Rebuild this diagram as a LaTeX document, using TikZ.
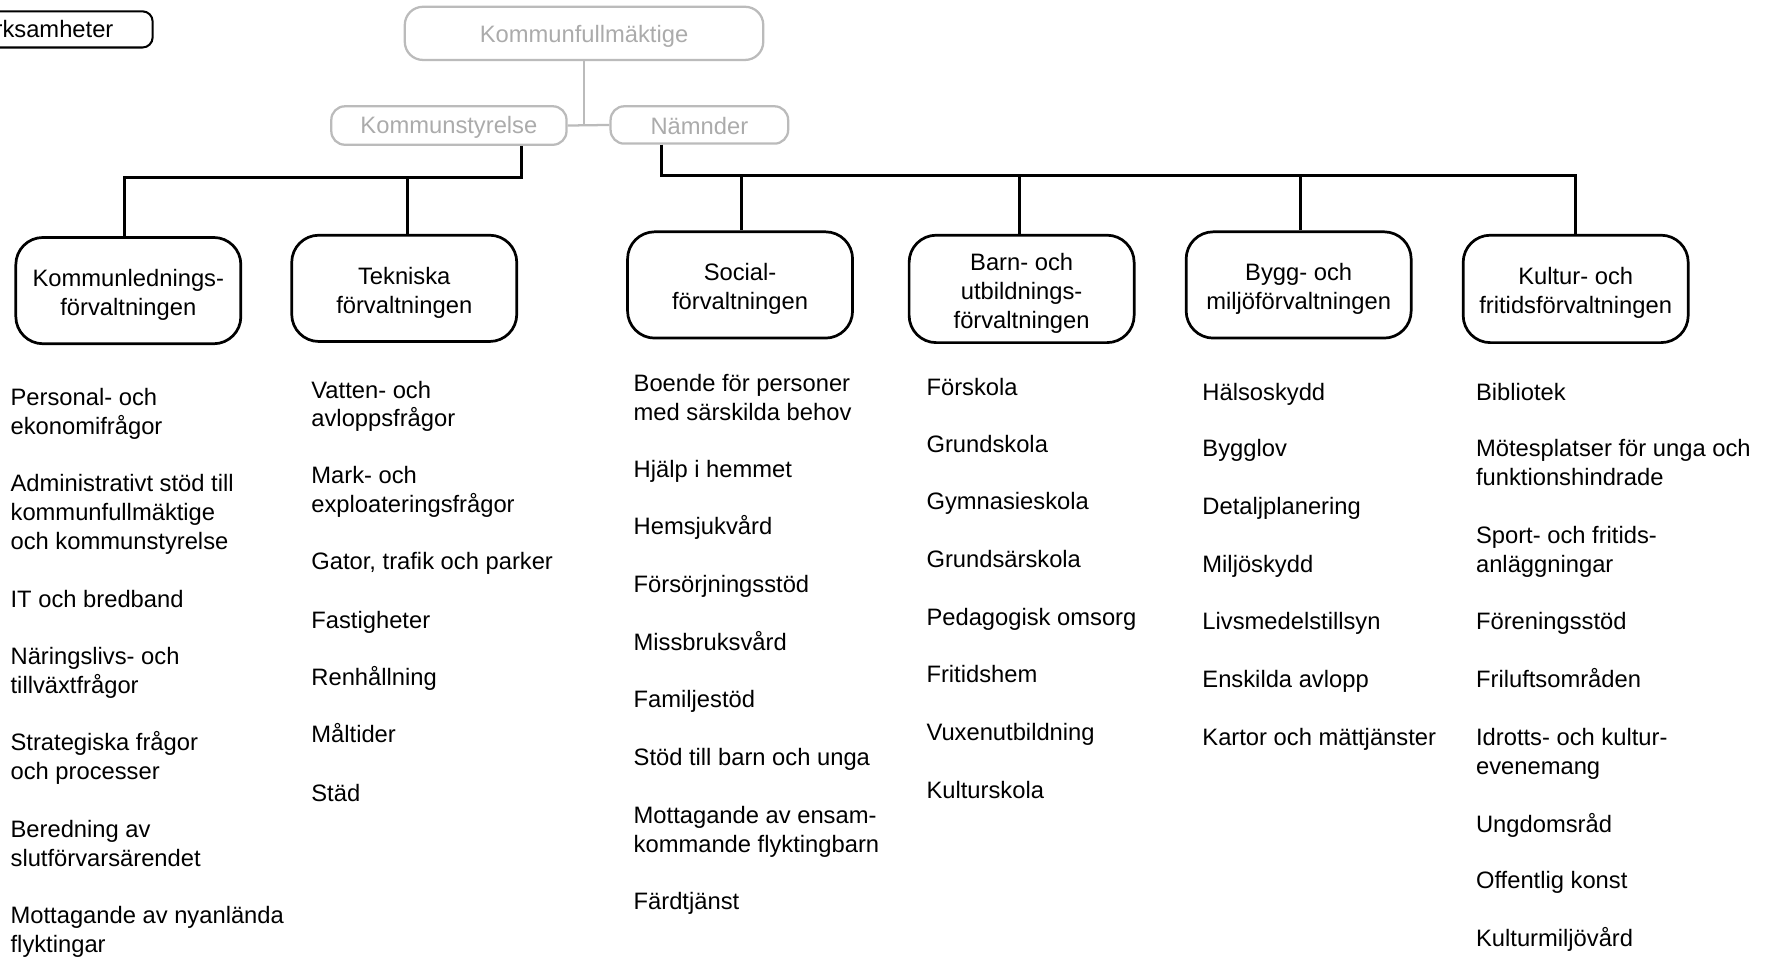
\documentclass[tikz,border=0pt]{standalone}
\usepackage{fontspec}
\setmainfont{Liberation Sans}
\definecolor{lg}{HTML}{BBBBBB}
\definecolor{lgt}{HTML}{ABABAB}
\newcommand{\dn}[2]{\raisebox{-#1}[\height][\depth]{#2}}
\begin{document}
\begin{tikzpicture}[x=0.5pt,y=-0.5pt,
  every node/.style={font=\fontsize{10.5pt}{12.75pt}\selectfont},
  unitbox/.style={draw, line width=1.2pt, rounded corners=12pt, minimum width=99.5pt, minimum height=47pt, align=center, inner sep=0pt},
  gbox/.style={draw=lg, line width=1pt, text=lgt, align=center, inner sep=0pt},
  item/.style={anchor=base west, align=left, inner sep=0pt},
  conn/.style={line width=1.3pt},
  gconn/.style={draw=lg, line width=1pt}]
\useasboundingbox (0,0) rectangle (1568,848);

% legend box (clipped on the left)
\node[draw, line width=0.9pt, rounded corners=4.5pt, minimum width=99.5pt, minimum height=16pt, inner sep=0pt] (leg) at (35.5,26) {Verksamheter};

% grey top level
\node[gbox, rounded corners=8pt, minimum width=158.5pt, minimum height=23.5pt] (kf) at (516.5,29.5) {\dn{1.5pt}{Kommunfullmäktige}};
\node[gbox, rounded corners=6pt, minimum width=104pt, minimum height=17pt] (kst) at (397,111) {\dn{1pt}{Kommunstyrelse}};
\node[gbox, rounded corners=6pt, minimum width=78.5pt, minimum height=16.5pt] (nam) at (618.5,110.5) {\dn{0.5pt}{Nämnder}};
\coordinate (g) at (516.5,111);
\draw[gconn] (kf.south) -- (g);
\draw[gconn] (kst.east) -- (nam.west);

% units
\node[unitbox] (b1) at (113.5,257) {\dn{2pt}{\begin{tabular}{@{}c@{}}Kommunlednings-\\förvaltningen\end{tabular}}};
\node[unitbox] (b2) at (357.5,255) {\dn{2pt}{\begin{tabular}{@{}c@{}}Tekniska\\förvaltningen\end{tabular}}};
\node[unitbox] (b3) at (654.5,252) {\dn{1.8pt}{\begin{tabular}{@{}c@{}}Social-\\förvaltningen\end{tabular}}};
\node[unitbox, minimum height=47.5pt] (b4) at (903.5,255.5) {\dn{2pt}{\begin{tabular}{@{}c@{}}Barn- och\\utbildnings-\\förvaltningen\end{tabular}}};
\node[unitbox] (b5) at (1148.5,252) {\dn{1.8pt}{\begin{tabular}{@{}c@{}}Bygg- och\\miljöförvaltningen\end{tabular}}};
\node[unitbox, minimum height=47.5pt] (b6) at (1393.5,255.5) {\dn{1.8pt}{\begin{tabular}{@{}c@{}}Kultur- och\\fritidsförvaltningen\end{tabular}}};

% connectors from Kommunstyrelse
\coordinate (kA) at (461,157);
\coordinate (kL) at (110,157);
\coordinate (kT) at (360,157);
\draw[conn] (kA |- kst.south) -- (kA) -- (kL) -- (kL |- b1.north);
\draw[conn] (kT) -- (kT |- b2.north);

% connectors from Nämnder
\coordinate (nA) at (585,155);
\coordinate (nS) at (656,155);
\coordinate (nB) at (902,155);
\coordinate (nM) at (1150,155);
\coordinate (nK) at (1393,155);
\draw[conn] (nA |- nam.south) -- (nA) -- (nK) -- (nK |- b6.north);
\draw[conn] (nS) -- (nS |- b3.north);
\draw[conn] (nB) -- (nB |- b4.north);
\draw[conn] (nM) -- (nM |- b5.north);

% column 1 (y = baseline of last line)
\node[item] (c1a) at (9,384.5) {Personal- och\\ekonomifrågor};
\node[item] (c1b) at (9,486) {Administrativt stöd till\\kommunfullmäktige\\och kommunstyrelse};
\node[item] (c1c) at (9,537) {IT och bredband};
\node[item] (c1d) at (9,613.5) {Näringslivs- och\\tillväxtfrågor};
\node[item] (c1e) at (9,689.5) {Strategiska frågor\\och processer};
\node[item] (c1f) at (9,766.5) {Beredning av\\slutförvarsärendet};
\node[item] (c1g) at (9,842.5) {Mottagande av nyanlända\\flyktingar};

% column 2
\node[item] (c2a) at (275,377.5) {Vatten- och\\avloppsfrågor};
\node[item] (c2b) at (275,453.5) {Mark- och\\exploateringsfrågor};
\node[item] (c2c) at (275,504) {Gator, trafik och parker};
\node[item] (c2d) at (275,556) {Fastigheter};
\node[item] (c2e) at (275,606) {Renhållning};
\node[item] (c2f) at (275,657) {Måltider};
\node[item] (c2g) at (275,709) {Städ};

% column 3
\node[item] (c3a) at (560,371.5) {Boende för personer\\med särskilda behov};
\node[item] (c3b) at (560,422) {Hjälp i hemmet};
\node[item] (c3c) at (560,473) {Hemsjukvård};
\node[item] (c3d) at (560,524) {Försörjningsstöd};
\node[item] (c3e) at (560,575) {Missbruksvård};
\node[item] (c3f) at (560,626) {Familjestöd};
\node[item] (c3g) at (560,677) {Stöd till barn och unga};
\node[item] (c3h) at (560,753.5) {Mottagande av ensam-\\kommande flyktingbarn};
\node[item] (c3i) at (560,804) {Färdtjänst};

% column 4
\node[item] (c4a) at (819,350) {Förskola};
\node[item] (c4b) at (819,400) {Grundskola};
\node[item] (c4c) at (819,451) {Gymnasieskola};
\node[item] (c4d) at (819,502) {Grundsärskola};
\node[item] (c4e) at (819,553) {Pedagogisk omsorg};
\node[item] (c4f) at (819,604) {Fritidshem};
\node[item] (c4g) at (819,655) {Vuxenutbildning};
\node[item] (c4h) at (819,706) {Kulturskola};

% column 5
\node[item] (c5a) at (1063,354) {Hälsoskydd};
\node[item] (c5b) at (1063,404) {Bygglov};
\node[item] (c5c) at (1063,455) {Detaljplanering};
\node[item] (c5d) at (1063,506) {Miljöskydd};
\node[item] (c5e) at (1063,557) {Livsmedelstillsyn};
\node[item] (c5f) at (1063,608) {Enskilda avlopp};
\node[item] (c5g) at (1063,659) {Kartor och mättjänster};

% column 6
\node[item] (c6a) at (1305,354) {Bibliotek};
\node[item] (c6b) at (1305,429.5) {Mötesplatser för unga och\\funktionshindrade};
\node[item] (c6c) at (1305,506.5) {Sport- och fritids-\\anläggningar};
\node[item] (c6d) at (1305,557) {Föreningsstöd};
\node[item] (c6e) at (1305,608) {Friluftsområden};
\node[item] (c6f) at (1305,684.5) {Idrotts- och kultur-\\evenemang};
\node[item] (c6g) at (1305,736) {Ungdomsråd};
\node[item] (c6h) at (1305,786) {Offentlig konst};
\node[item] (c6i) at (1305,837) {Kulturmiljövård};
\end{tikzpicture}
\end{document}
